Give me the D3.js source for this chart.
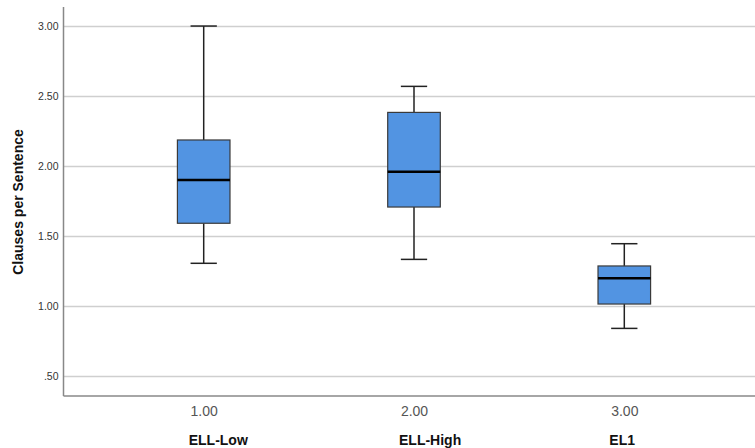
<!DOCTYPE html>
<html>
<head>
<meta charset="utf-8">
<script src="https://cdn.jsdelivr.net/npm/d3@7"></script>
<style>
body { margin: 0; background: #fff; }
svg { display: block; font-family: "Liberation Sans", Arial, sans-serif; }
</style>
</head>
<body>
<div id="chart"></div>
<script>
// data
let groups = [1, 2, 3];
let groupTicks = ["1.00", "2.00", "3.00"];
let groupNames = ["ELL-Low", "ELL-High", "EL1"];
let mins = [1.305, 1.333, 0.84];
let q1 = [1.591, 1.707, 1.014];
let medians = [1.90, 1.959, 1.198];
let q3 = [2.186, 2.383, 1.286];
let maxs = [3.00, 2.569, 1.445];
let yTicks = [0.5, 1, 1.5, 2, 2.5, 3];
let yTickLabels = [".50", "1.00", "1.50", "2.00", "2.50", "3.00"];

let w = 755, h = 448;
let padLeft = 63.5, padBottom = 396, padTop = 7;

let svg = d3.select('#chart')
    .append('svg')
    .attr('width', w)
    .attr('height', h);

let x = d3.scaleLinear().domain([1/3, 11/3]).range([padLeft, 764.5]);
let y = d3.scaleLinear().domain([0.357, 3.136]).range([padBottom, padTop]);

let boxW = x(1.125) - x(1);   // half width
let capW = x(1.0625) - x(1);

// gridlines
svg.append('g')
    .attr('transform', `translate(${padLeft},0)`)
    .call(d3.axisLeft(y).tickValues(yTicks).tickSize(-(w - padLeft)).tickFormat((d,i) => yTickLabels[i]))
    .call(g => g.select('.domain').remove())
    .call(g => g.selectAll('.tick line').attr('stroke', '#cfcfcf').attr('stroke-width', 1.5))
    .call(g => g.selectAll('.tick text')
        .attr('x', -5)
        .attr('fill', '#333')
        .style('font-size', '10.5px')
        .style('font-family', '"Liberation Sans", Arial, sans-serif'));

// axis lines
svg.append('line')
    .attr('x1', padLeft).attr('x2', padLeft)
    .attr('y1', padTop).attr('y2', padBottom)
    .attr('stroke', '#888').attr('stroke-width', 1.5);
svg.append('line')
    .attr('x1', padLeft).attr('x2', w)
    .attr('y1', padBottom).attr('y2', padBottom)
    .attr('stroke', '#888').attr('stroke-width', 1.5);

// x tick labels
let xa = svg.append('g')
    .attr('transform', `translate(0,${padBottom})`)
    .call(d3.axisBottom(x).tickValues(groups).tickSize(0).tickPadding(10).tickFormat((d,i) => groupTicks[i]));
xa.select('.domain').remove();
xa.selectAll('text')
    .attr('fill', '#555')
    .style('font-size', '14px')
    .style('font-family', '"Liberation Sans", Arial, sans-serif');

// category names
svg.selectAll('text.cat')
    .data(groupNames)
    .enter()
    .append('text')
    .attr('class', 'cat')
    .text(d => d)
    .attr('x', (d,i) => x(groups[i]) - 15)
    .attr('y', 445)
    .attr('font-weight', 'bold')
    .style('font-size', '14px')
    .attr('fill', '#111');

// y title
svg.append('text')
    .text('Clauses per Sentence')
    .attr('transform', 'translate(23,202) rotate(-90)')
    .attr('text-anchor', 'middle')
    .attr('font-weight', 'bold')
    .style('font-size', '14px')
    .attr('fill', '#111');

// boxes
let box = svg.selectAll('g.box')
    .data(groups)
    .enter()
    .append('g')
    .attr('class', 'box');

// whiskers
box.append('line')
    .attr('x1', d => x(d)).attr('x2', d => x(d))
    .attr('y1', (d,i) => y(maxs[i])).attr('y2', (d,i) => y(q3[i]))
    .attr('stroke', '#222').attr('stroke-width', 1.5);
box.append('line')
    .attr('x1', d => x(d)).attr('x2', d => x(d))
    .attr('y1', (d,i) => y(q1[i])).attr('y2', (d,i) => y(mins[i]))
    .attr('stroke', '#222').attr('stroke-width', 1.5);
box.append('line')
    .attr('x1', d => x(d) - capW).attr('x2', d => x(d) + capW)
    .attr('y1', (d,i) => y(maxs[i])).attr('y2', (d,i) => y(maxs[i]))
    .attr('stroke', '#222').attr('stroke-width', 1.5);
box.append('line')
    .attr('x1', d => x(d) - capW).attr('x2', d => x(d) + capW)
    .attr('y1', (d,i) => y(mins[i])).attr('y2', (d,i) => y(mins[i]))
    .attr('stroke', '#222').attr('stroke-width', 1.5);

box.append('rect')
    .attr('x', d => x(d) - boxW)
    .attr('width', boxW * 2)
    .attr('y', (d,i) => y(q3[i]))
    .attr('height', (d,i) => y(q1[i]) - y(q3[i]))
    .attr('fill', '#5294e2')
    .attr('stroke', '#3a3a3a')
    .attr('stroke-width', 1.2);

box.append('line')
    .attr('x1', d => x(d) - boxW).attr('x2', d => x(d) + boxW)
    .attr('y1', (d,i) => y(medians[i])).attr('y2', (d,i) => y(medians[i]))
    .attr('stroke', '#000').attr('stroke-width', 2.5);
</script>
</body>
</html>
